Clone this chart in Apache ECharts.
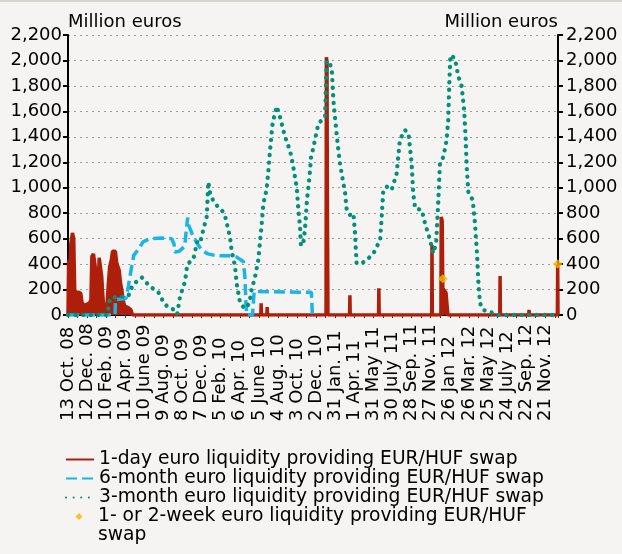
<!DOCTYPE html>
<html>
<head>
<meta charset="utf-8">
<script src="https://cdn.jsdelivr.net/npm/echarts@6/dist/echarts.min.js"></script>
<style>
  html, body { margin: 0; padding: 0; background: #f5f4f2; }
  #chart { width: 622px; height: 554px; }
</style>
</head>
<body>
<div id="chart"></div>
<script>
// x values are days since 13 Oct. 2008 (daily data, labels every 60 days)
var xLabels = ['13 Oct. 08', '12 Dec. 08', '10 Feb. 09', '11 Apr. 09', '10 June 09', '9 Aug. 09',
  '8 Oct. 09', '7 Dec. 09', '5 Feb. 10', '6 Apr. 10', '5 June 10', '4 Aug. 10', '3 Oct. 10',
  '2 Dec. 10', '31 Jan. 11', '1 Apr. 11', '31 May 11', '30 July 11', '28 Sep. 11', '27 Nov. 11',
  '26 Jan 12', '26 Mar. 12', '25 May 12', '24 July 12', '22 Sep. 12', '21 Nov. 12'];

// 1-day swap
var oneDayDays = [0, 2, 5, 9, 14, 18, 21, 25, 32, 40, 44, 50, 54, 58, 62, 67, 72, 75, 80, 86, 90, 92, 95,
  98, 103, 106, 109, 112, 114, 120, 123, 127, 131, 136, 140, 145, 149, 153, 157, 161, 165, 169, 173,
  178, 188, 198, 203,
  606, 607, 608, 625, 626, 627,
  811, 812, 814, 815, 817,
  885, 886, 887,
  976, 977, 978,
  1143, 1144, 1145,
  1172, 1173, 1176, 1178, 1184, 1188, 1192, 1194,
  1357, 1358, 1359,
  1448, 1449, 1450,
  1538, 1539, 1540];
var oneDayValues = [0, 430, 320, 560, 645, 600, 200, 175, 180, 170, 100, 90, 60, 85, 70, 90, 120, 460, 480, 470, 300, 160, 200,
  450, 455, 300, 170, 160, 0, 0, 100, 250, 380, 430, 500, 515, 500, 410, 380, 350, 250, 200, 120,
  70, 60, 40, 0,
  0, 92, 0, 0, 62, 0,
  0, 2025, 1990, 1040, 0,
  0, 155, 0,
  0, 210, 0,
  0, 550, 0,
  0, 770, 740, 210, 200, 175, 170, 0,
  0, 306, 0,
  0, 40, 0,
  0, 395, 0];

// 6-month swap
var sixMonthDays = [0, 148, 149, 182, 190, 200, 207, 221, 236, 258, 295, 326, 333, 336, 349, 367, 371, 376,
  380, 389, 404, 420, 440, 467, 509, 530, 551, 556, 559, 562, 580, 585, 765, 768];
var sixMonthValues = [0, 0, 120, 130, 230, 380, 470, 515, 575, 600, 605, 600, 560, 495, 500, 540, 650, 765,
  700, 645, 570, 510, 480, 465, 465, 455, 420, 300, 100, 0, 0, 185, 178, 0];

// 3-month swap
var threeMonthDays = [0, 123, 132, 157, 189, 204, 217, 232, 248, 264, 283, 299, 314, 330, 343, 352, 368, 375,
  394, 406, 415, 425, 436, 441, 446, 456, 471, 484, 493, 499, 509, 514, 525, 530, 541, 556, 570, 577,
  588, 598, 603, 609, 614, 624, 630, 635, 640, 643, 656, 666, 682, 688, 698, 708, 719, 724, 729, 732,
  739, 745, 751, 759, 764, 772, 776, 787, 798, 808, 811, 813, 820, 829, 834, 844, 853, 860, 871, 876,
  886, 897, 902, 907, 923, 939, 960, 981, 986, 991, 1002, 1017, 1033, 1043, 1059, 1070, 1080, 1085,
  1091, 1112, 1122, 1138, 1148, 1157, 1164, 1169, 1180, 1190, 1195, 1198, 1202, 1216, 1227, 1237,
  1245, 1250, 1253, 1258, 1272, 1279, 1285, 1287, 1290, 1295, 1305, 1326, 1348, 1540];
var threeMonthValues = [0, 0, 130, 144, 145, 240, 265, 295, 250, 212, 185, 105, 60, 45, 5, 144, 265, 400,
  440, 575, 563, 668, 772, 1045, 965, 900, 850, 820, 786, 720, 615, 511, 380, 249, 92, 50, 92, 196,
  301, 432, 563, 720, 877, 982, 1139, 1296, 1428, 1506, 1640, 1558, 1401, 1400, 1290, 1165, 1000, 825, 700, 545,
  555, 680, 903, 1086, 1244, 1322, 1375, 1506, 1530, 1555, 1846, 1995, 1990, 1938, 1689, 1428, 1218, 1113, 956, 825,
  786, 799, 642, 406, 406, 432, 485, 589, 772, 982, 1008, 982, 1113, 1375, 1453, 1428, 1192, 956,
  838, 825, 720, 589, 485, 563, 903, 1192, 1244, 1375, 1532, 1793, 2042, 2016, 1872, 1800,
  1610, 1375, 1165, 969, 903, 720, 500, 406, 240, 92, 39, 26, 0, 0];

// 1- or 2-week swap
var weekDays = [1178, 1539];
var weekValues = [285, 400];

var names = ['1-day euro liquidity providing EUR/HUF swap',
  '6-month euro liquidity providing EUR/HUF swap',
  '3-month euro liquidity providing EUR/HUF swap',
  '1- or 2-week euro liquidity providing EUR/HUF swap'];

function pairs(xs, ys) {
  return xs.map(function (x, i) { return [x, ys[i]]; });
}

var font = 'DejaVu Sans';
var legendText = { color: '#000', fontSize: 18.7, fontFamily: font, lineHeight: 19 };

function yAxisFor(pos) {
  return {
    type: 'value',
    position: pos,
    min: 0,
    max: 2200,
    interval: 200,
    name: 'Million euros',
    nameLocation: 'end',
    nameGap: 13,
    nameTextStyle: {
      color: '#000', fontSize: 18, fontFamily: font,
      align: pos === 'left' ? 'left' : 'right', verticalAlign: 'middle'
    },
    axisLine: { show: true, lineStyle: { color: '#000', width: 2 } },
    axisTick: { show: true, inside: false, length: 5, lineStyle: { color: '#000', width: 2 } },
    axisLabel: {
      color: '#000', fontSize: 18, fontFamily: font, margin: pos === 'left' ? 6 : 8,
      formatter: function (v) { return v.toLocaleString('en-US'); }
    },
    splitLine: {
      show: pos === 'left',
      lineStyle: { color: '#9c9c9c', width: 1, type: [2, 4] }
    }
  };
}

var chart = echarts.init(document.getElementById('chart'));

var option = {
  backgroundColor: '#f5f4f2',
  animation: false,
  grid: { left: 68, right: 64, top: 35, bottom: 239, outerBoundsMode: 'none' },
  graphic: [{
    type: 'rect', left: 0, top: 0, shape: { width: 622, height: 2 },
    style: { fill: '#d8d4ce' }
  }],
  xAxis: {
    type: 'value',
    min: 0,
    max: 1540,
    interval: 60,
    axisLine: { show: true, onZero: false, lineStyle: { color: '#000', width: 1 } },
    axisTick: { show: true, length: 3, lineStyle: { color: '#333' } },
    minorTick: { show: true, splitNumber: 2, length: 3, lineStyle: { color: '#333' } },
    splitLine: { show: false },
    axisLabel: {
      rotate: 90,
      align: 'left',
      verticalAlign: 'middle',
      margin: 106,
      padding: [0, 0, 8, 0],
      color: '#000',
      fontSize: 18,
      fontFamily: font,
      showMaxLabel: false,
      formatter: function (v) {
        if (v % 60 !== 0) return '';
        return xLabels[v / 60] || '';
      }
    }
  },
  yAxis: [yAxisFor('left'), yAxisFor('right')],
  legend: [
    {
      orient: 'vertical',
      left: 60,
      top: 445,
      itemWidth: 28,
      itemHeight: 12,
      itemGap: 0,
      itemStyle: { opacity: 0 },
      textStyle: legendText,
      data: [names[0], names[1], names[2]]
    },
    {
      orient: 'vertical',
      left: 60,
      top: 502,
      itemWidth: 28,
      itemHeight: 38,
      itemGap: 0,
      textStyle: legendText,
      formatter: function () { return '1- or 2-week euro liquidity providing EUR/HUF\nswap'; },
      data: [{ name: names[3], icon: 'path://M0,0M28,38M14,6L17.5,9.5L14,13L10.5,9.5Z' }]
    }
  ],
  series: [
    {
      name: names[0],
      type: 'line',
      data: pairs(oneDayDays, oneDayValues),
      symbol: 'none',
      color: '#ad1f0a',
      lineStyle: { color: '#ad1f0a', width: 3.5 },
      areaStyle: { color: '#ad1f0a', opacity: 1 },
      z: 2
    },
    {
      name: names[1],
      type: 'line',
      data: pairs(sixMonthDays, sixMonthValues),
      symbol: 'none',
      color: '#1ab4e6',
      lineStyle: { color: '#1ab4e6', width: 3.5, type: [11, 5] },
      z: 3
    },
    {
      name: names[2],
      type: 'line',
      data: pairs(threeMonthDays, threeMonthValues),
      symbol: 'none',
      color: '#00917c',
      lineStyle: { color: '#00917c', width: 4.3, type: [0.1, 7.5], cap: 'round' },
      z: 4
    },
    {
      name: names[3],
      type: 'scatter',
      data: pairs(weekDays, weekValues),
      symbol: 'diamond',
      symbolSize: [10, 9],
      itemStyle: { color: '#f7b500' },
      z: 5
    }
  ]
};

chart.setOption(option);
</script>
</body>
</html>
